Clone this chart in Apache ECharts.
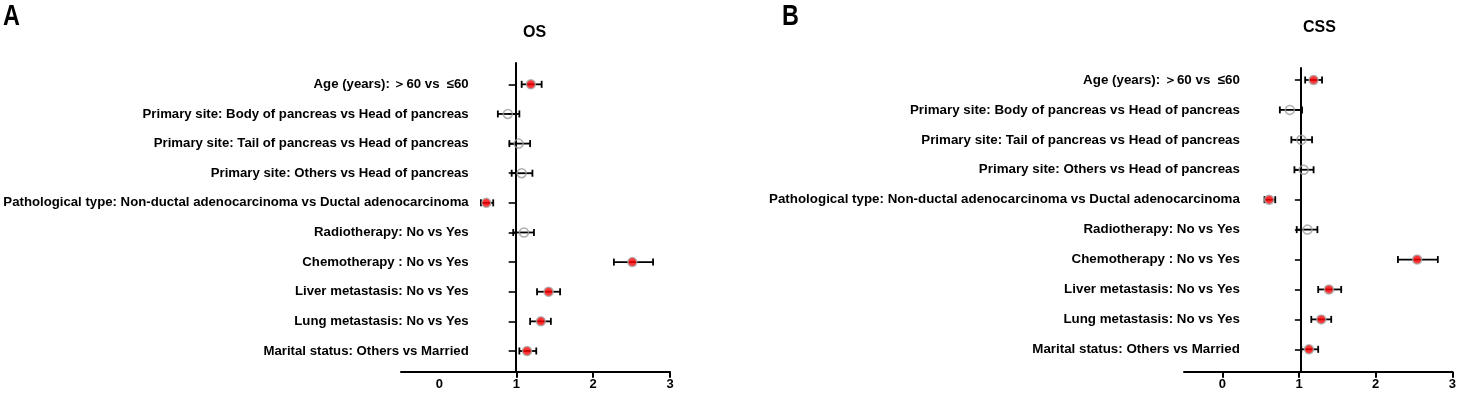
<!DOCTYPE html>
<html>
<head>
<meta charset="utf-8">
<title>OS / CSS forest plot</title>
<script src="https://cdn.jsdelivr.net/npm/echarts@6.0.0/dist/echarts.min.js"></script>
<style>
  html, body { margin: 0; padding: 0; background: #fff; }
  #chart { width: 1459px; height: 393px; }
</style>
</head>
<body>
<div id="chart"></div>
<script>
// row labels, top to bottom
var labels = [
  'Age (years): ＞60 vs  ≤60',
  'Primary site: Body of pancreas vs Head of pancreas',
  'Primary site: Tail of pancreas vs Head of pancreas',
  'Primary site: Others vs Head of pancreas',
  'Pathological type: Non-ductal adenocarcinoma vs Ductal adenocarcinoma',
  'Radiotherapy: No vs Yes',
  'Chemotherapy : No vs Yes',
  'Liver metastasis: No vs Yes',
  'Lung metastasis: No vs Yes',
  'Marital status: Others vs Married'
];

// OS hazard ratios with 95% CI
var osHR   = [1.19, 0.89, 1.03, 1.07, 0.61, 1.10, 2.51, 1.42, 1.32, 1.14];
var osLow  = [1.07, 0.76, 0.91, 0.94, 0.54, 0.96, 2.27, 1.27, 1.18, 1.04];
var osHigh = [1.33, 1.04, 1.18, 1.21, 0.70, 1.23, 2.78, 1.57, 1.45, 1.26];

// CSS hazard ratios with 95% CI
var cssHR   = [1.19, 0.88, 1.03, 1.06, 0.61, 1.11, 2.54, 1.39, 1.29, 1.13];
var cssLow  = [1.08, 0.75, 0.90, 0.94, 0.55, 0.97, 2.29, 1.25, 1.16, 1.03];
var cssHigh = [1.30, 1.04, 1.17, 1.19, 0.69, 1.24, 2.81, 1.55, 1.42, 1.25];

var xLabelValues = [0, 1, 2, 3];

var FONT = "'Liberation Sans', Arial, sans-serif";
var n = labels.length;
var rowValues = [];
for (var k = 1; k <= n; k++) rowValues.push(k);

function rowOf(i) { return n - i; }

function pointData(hr, low, high) {
  var res = [];
  for (var i = 0; i < hr.length; i++) {
    var sig = low[i] > 1 || high[i] < 1;
    res.push({
      value: [hr[i], rowOf(i)],
      itemStyle: sig
        ? { color: '#ff0000', borderColor: '#a8a8a8', borderWidth: 1.5 }
        : { color: 'rgba(255,255,255,0)', borderColor: '#9a9a9a', borderWidth: 1.5 }
    });
  }
  return res;
}

function barData(low, high) {
  var res = [];
  for (var i = 0; i < low.length; i++) {
    res.push([low[i], high[i], rowOf(i)]);
  }
  return res;
}

function renderBar(params, api) {
  var y = api.value(2);
  var p1 = api.coord([api.value(0), y]);
  var p2 = api.coord([api.value(1), y]);
  var h = 3.5;
  var st = { stroke: '#000', lineWidth: 1.8 };
  return {
    type: 'group',
    children: [
      { type: 'line', shape: { x1: p1[0], y1: p1[1], x2: p2[0], y2: p2[1] }, style: st },
      { type: 'line', shape: { x1: p1[0], y1: p1[1] - h, x2: p1[0], y2: p1[1] + h }, style: st },
      { type: 'line', shape: { x1: p2[0], y1: p2[1] - h, x2: p2[0], y2: p2[1] + h }, style: st }
    ]
  };
}

function makeX(gridIndex, tickValues) {
  return {
    gridIndex: gridIndex,
    type: 'value',
    min: -0.5,
    max: 3,
    axisLine: { onZero: false, lineStyle: { color: '#000', width: 2 } },
    axisTick: { customValues: tickValues, length: 6, lineStyle: { color: '#000', width: 2 } },
    axisLabel: {
      customValues: xLabelValues,
      color: '#000', fontFamily: FONT, fontWeight: 'bold', fontSize: 13, margin: 6
    },
    splitLine: { show: false }
  };
}

function makeY(gridIndex, min, max, offset, margin, tickLen, fontSize) {
  return {
    gridIndex: gridIndex,
    type: 'value',
    min: min,
    max: max,
    position: 'left',
    offset: offset,
    axisLine: { show: true, onZero: false, lineStyle: { color: '#000', width: 2 } },
    axisTick: { show: true, customValues: rowValues, length: tickLen, lineStyle: { color: '#000', width: 1.6 } },
    axisLabel: {
      customValues: rowValues,
      formatter: function (v) { return labels[n - v]; },
      color: '#000', fontFamily: FONT, fontWeight: 'bold', fontSize: fontSize, margin: margin
    },
    splitLine: { show: false }
  };
}

var chart = echarts.init(document.getElementById('chart'));

var option = {
  animation: false,
  backgroundColor: '#fff',
  grid: [
    { left: 401, right: 789, top: 63, bottom: 21.3 },
    { left: 1184, right: 3, top: 68, bottom: 21.3 }
  ],
  xAxis: [makeX(0, [1, 2, 3]), makeX(1, [0, 1, 2, 3])],
  yAxis: [
    makeY(0, 0.301, 10.72, -114.7, 47, 7, 13.2),
    makeY(1, 0.252, 10.40, -116.9, 61, 6, 13.35)
  ],
  graphic: [
    { type: 'text', left: 3, top: 2, scaleX: 0.78,
      style: { text: 'A', font: 'bold 30px ' + FONT, fill: '#000' } },
    { type: 'text', left: 782, top: 2, scaleX: 0.78,
      style: { text: 'B', font: 'bold 30px ' + FONT, fill: '#000' } },
    { type: 'text', left: 523, top: 25,
      style: { text: 'OS', font: 'bold 16px ' + FONT, fill: '#000' } },
    { type: 'text', left: 1303, top: 20,
      style: { text: 'CSS', font: 'bold 16px ' + FONT, fill: '#000' } }
  ],
  series: [
    { type: 'custom', xAxisIndex: 0, yAxisIndex: 0, renderItem: renderBar,
      encode: { x: [0, 1], y: 2 }, data: barData(osLow, osHigh), z: 2 },
    { type: 'scatter', xAxisIndex: 0, yAxisIndex: 0, symbol: 'circle', symbolSize: 9,
      data: pointData(osHR, osLow, osHigh), z: 3 },
    { type: 'custom', xAxisIndex: 1, yAxisIndex: 1, renderItem: renderBar,
      encode: { x: [0, 1], y: 2 }, data: barData(cssLow, cssHigh), z: 2 },
    { type: 'scatter', xAxisIndex: 1, yAxisIndex: 1, symbol: 'circle', symbolSize: 9,
      data: pointData(cssHR, cssLow, cssHigh), z: 3 }
  ]
};

chart.setOption(option);
</script>
</body>
</html>
